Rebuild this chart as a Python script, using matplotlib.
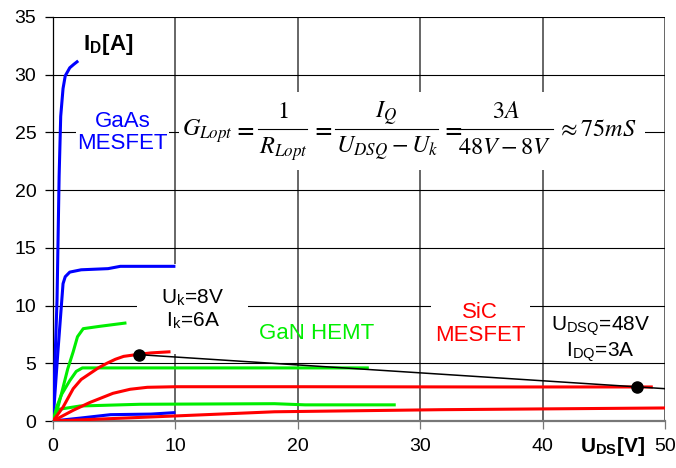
import numpy as np
import matplotlib
matplotlib.use("Agg")
import matplotlib.pyplot as plt
from matplotlib.patches import Rectangle

plt.rcParams['font.family'] = ['Liberation Sans', 'DejaVu Sans']
plt.rcParams['mathtext.fontset'] = 'stix'

# GaAs MESFET curves (blue)
gaas_1_x = [0, 0.33, 0.5, 0.63, 0.82, 1.0, 1.37, 1.7, 2.06]
gaas_1_y = [0, 10.5, 21.2, 26.4, 28.8, 29.9, 30.6, 30.9, 31.2]
gaas_2_x = [0, 0.4, 0.82, 1.0, 1.37, 2.3, 4.5, 5.5, 10]
gaas_2_y = [0, 6.0, 11.9, 12.5, 12.9, 13.1, 13.2, 13.4, 13.4]
gaas_3_x = [0, 2.2, 4.7, 8.0, 10]
gaas_3_y = [0, 0.25, 0.55, 0.6, 0.73]

# GaN HEMT curves (green)
gan_1_x = [0, 0.4, 0.7, 1.2, 1.65, 2.0, 2.47, 3.8, 6.0]
gan_1_y = [0, 1.2, 2.4, 4.5, 6.0, 7.3, 8.0, 8.2, 8.5]
gan_2_x = [0, 0.3, 0.7, 1.37, 1.9, 2.4, 10, 25.8]
gan_2_y = [0, 1.2, 2.3, 3.5, 4.3, 4.6, 4.6, 4.6]
gan_3_x = [0, 0.4, 2.2, 7.1, 18.1, 20.6, 28.0]
gan_3_y = [0, 1.0, 1.3, 1.45, 1.5, 1.4, 1.4]

# SiC MESFET curves (red)
sic_1_x = [0, 0.82, 1.65, 2.3, 3.0, 3.7, 4.4, 5.1, 5.77, 6.87, 8.0, 9.6]
sic_1_y = [0, 1.2, 2.8, 3.6, 4.1, 4.6, 5.0, 5.35, 5.6, 5.76, 5.9, 6.0]
sic_2_x = [0, 1.65, 3.0, 4.9, 6.3, 7.7, 10, 20, 35, 49]
sic_2_y = [0, 0.93, 1.6, 2.4, 2.75, 2.92, 2.97, 2.97, 2.95, 2.95]
sic_3_x = [0, 9.8, 18.1, 31.6, 50]
sic_3_y = [0, 0.43, 0.8, 0.98, 1.13]

# load line and the two operating points
load_x = [7.0, 50]
load_y = [5.75, 2.8]
point_x = [7.0, 47.7]
point_y = [5.75, 2.95]

fig = plt.figure(figsize=(6.76, 4.68), dpi=100)
ax = fig.add_axes([0.0784, 0.1004, 0.9054, 0.8633])

ax.set_xlim(0, 50)
ax.set_ylim(0, 35)
ax.set_xticks(np.arange(0, 51, 10))
ax.set_yticks(np.arange(0, 36, 5))

for v in range(10, 51, 10):
    ax.axvline(v, color='#666666', lw=1.4, zorder=1)
for h in range(5, 36, 5):
    ax.axhline(h, color='black', lw=0.8, zorder=1)

for s in ['top', 'right']:
    ax.spines[s].set_visible(False)
ax.spines['left'].set_color('black')
ax.spines['left'].set_linewidth(0.9)
ax.spines['bottom'].set_color('#777777')
ax.spines['bottom'].set_linewidth(1.6)
ax.tick_params(direction='out', length=6, width=0.9, labelsize=14, pad=6)
ax.tick_params(axis='x', colors='#777777', labelcolor='black')

lw = 2.2
for xs, ys in [(gaas_1_x, gaas_1_y), (gaas_2_x, gaas_2_y), (gaas_3_x, gaas_3_y)]:
    ax.plot(xs, ys, color='#0000ff', lw=lw, zorder=3, solid_capstyle='butt')
for xs, ys in [(gan_1_x, gan_1_y), (gan_2_x, gan_2_y), (gan_3_x, gan_3_y)]:
    ax.plot(xs, ys, color='#00ee00', lw=lw, zorder=3, solid_capstyle='butt')
for xs, ys in [(sic_1_x, sic_1_y), (sic_2_x, sic_2_y), (sic_3_x, sic_3_y)]:
    ax.plot(xs, ys, color='#ff0000', lw=lw, zorder=3, solid_capstyle='butt')

ax.plot(load_x, load_y, color='black', lw=1.1, zorder=4)
ax.plot(point_x, point_y, 'o', color='black', ms=8, zorder=5)

ax.text(4.5, 32.6, r'I$_\mathregular{D}$[A]', fontsize=16, fontweight='bold',
        ha='center', va='center', zorder=6)
ax.text(5.7, 25.0, 'GaAs\nMESFET', color='#0000ff', fontsize=16,
        ha='center', va='center', linespacing=1.1, zorder=2,
        bbox=dict(facecolor='white', edgecolor='none', pad=1))
ax.text(11.4, 9.7, 'U$_\\mathregular{k}$=8V\nI$_\\mathregular{k}$=6A', fontsize=15,
        ha='center', va='center', linespacing=1.1, zorder=2,
        bbox=dict(facecolor='white', edgecolor='none', pad=17))
ax.text(21.5, 7.6, 'GaN HEMT', color='#00ee00', fontsize=16,
        ha='center', va='center', zorder=6)
ax.text(34.9, 8.4, 'SiC\nMESFET', color='#ff0000', fontsize=16,
        ha='center', va='center', linespacing=1.1, zorder=2,
        bbox=dict(facecolor='white', edgecolor='none', pad=3))
ax.text(44.7, 7.1, 'U$_\\mathregular{DSQ}$=48V\nI$_\\mathregular{DQ}$=3A', fontsize=15,
        ha='center', va='center', linespacing=1.1, zorder=6)
ax.text(45.7, -2.2, r'U$_\mathregular{DS}$[V]', fontsize=15, fontweight='bold',
        ha='center', va='center', zorder=6, clip_on=False)

# formula, laid out piece by piece (positions in image pixels)
inv = ax.transData.inverted()


def px(xp, yp):
    return inv.transform((xp, 468 - yp))


x0, y0 = px(179, 170)
x1, y1 = px(645, 92)
ax.add_patch(Rectangle((x0, y0), x1 - x0, y1 - y0, facecolor='white',
                       edgecolor='none', zorder=2))

fs = 17.5
pieces = [
    (r'$G_{Lopt}$', 208, 131, fs),
    (r'$\mathbf{=}$', 244, 129, 17),
    (r'$1$', 283, 112, fs),
    (r'$R_{Lopt}$', 283, 149, fs),
    (r'$\mathbf{=}$', 322, 129, 17),
    (r'$I_Q$', 386, 114, fs),
    (r'$U_{DSQ}-U_k$', 387, 149, fs),
    (r'$\mathbf{=}$', 452, 129, 17),
    (r'$3A$', 506, 112, fs),
    (r'$48V-8V$', 505, 148, fs),
    (r'$\approx 75mS$', 597, 130, fs),
]
for s, xp, yp, size in pieces:
    tx, ty = px(xp, yp)
    ax.text(tx, ty, s, fontsize=size, ha='center', va='center', zorder=6)

for xa, xb in [(258, 307), (335, 438), (458, 553)]:
    pa = px(xa, 129)
    pb = px(xb, 129)
    ax.plot([pa[0], pb[0]], [pa[1], pb[1]], color='black', lw=0.8, zorder=6)

fig.savefig('out.png', dpi=100, facecolor='white')
